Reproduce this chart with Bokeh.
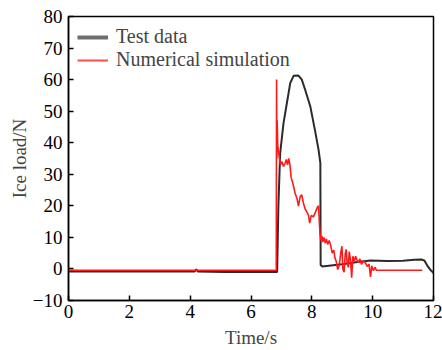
from bokeh.plotting import figure
from bokeh.models import Range1d, Legend, LegendItem, FixedTicker
from bokeh.embed import file_html
from bokeh.resources import INLINE

# Test data (time s, ice load N)
test_t = [0, 4.15, 4.2, 4.25, 5.1, 6.86, 6.9, 6.96, 7.07, 7.18, 7.29, 7.4, 7.56, 7.67,
          7.78, 7.95, 8.11, 8.22, 8.28, 8.29, 8.35, 8.7, 9.06, 9.5, 9.93, 10.5, 11.0,
          11.36, 11.6, 11.7, 11.8, 11.9, 12.0]
test_v = [-0.8, -0.8, -0.1, -0.8, -1.0, -1.0, 20, 36.8, 46.3, 52.6, 58.9, 61.2, 61.3, 60,
          56.8, 51.5, 43.6, 37.8, 33.6, 1.2, 0.8, 1.2, 1.6, 2.2, 2.7, 2.5, 2.6,
          2.9, 3.0, 2.7, 1.0, -0.3, -1.3]

# Numerical simulation
sim_t = [0, 6.83, 6.84, 6.85, 6.86, 6.88, 6.92, 6.97, 7.02, 7.07, 7.12, 7.16, 7.2, 7.24,
         7.28, 7.32, 7.38, 7.45, 7.52, 7.56, 7.62, 7.67, 7.72, 7.78, 7.84, 7.89, 7.93,
         7.98, 8.05, 8.12, 8.18, 8.22, 8.24, 8.27, 8.3, 8.33, 8.36, 8.4, 8.44, 8.48,
         8.52, 8.57, 8.62, 8.67, 8.72, 8.76, 8.8, 8.85, 8.9, 8.95, 8.99, 9.02, 9.06,
         9.1, 9.13, 9.16, 9.2, 9.23, 9.27, 9.31, 9.35, 9.4, 9.44, 9.48, 9.53, 9.58,
         9.63, 9.7, 9.76, 9.82, 9.88, 9.93, 9.97, 10.02, 10.08, 10.12, 11.63]
sim_v = [-0.4, -0.4, 60, 35, 47, 39, 36, 33, 34, 32.5, 33.5, 34.7, 33, 35,
         33, 29, 27, 24, 22, 19.9, 23, 23.5, 21, 19, 18, 17, 14.5,
         17, 16.5, 18, 19.5, 20, 16, 11, 9, 10.5, 8.5, 10, 8.2, 9.5,
         7.8, 9, 7.5, 5, 6, 3.5, 2.5, -0.2, 1, 5, 7.2, 0, -1,
         5, 6.2, 2, 0.5, 5.5, 3, -2.8, 4, 2.5, 4, 3, 2, 3.2,
         1.5, 2.5, 2, 0.8, 1.5, -2.5, 1, -0.5, 0.5, -0.4, -0.4]

x_ticks = [0, 2, 4, 6, 8, 10, 12]
y_ticks = [-10, 0, 10, 20, 30, 40, 50, 60, 70, 80]

FONT = "Liberation Serif"

p = figure(width=442, height=350, output_backend="svg", toolbar_location=None,
           x_range=Range1d(0, 12), y_range=Range1d(-10, 80),
           min_border_left=68, min_border_right=9, min_border_top=16, min_border_bottom=49)
p.background_fill_color = "white"
p.border_fill_color = "white"
p.outline_line_color = "black"
p.outline_line_width = 1.5
p.grid.visible = False

for ax in (p.xaxis[0], p.yaxis[0]):
    ax.major_tick_in = 5
    ax.major_tick_out = 0
    ax.minor_tick_in = 0
    ax.minor_tick_out = 0
    ax.axis_line_width = 1.5
    ax.major_tick_line_width = 1.5
    ax.major_label_text_font = FONT
    ax.major_label_text_font_size = "19px"
    ax.axis_label_text_font = FONT
    ax.axis_label_text_font_size = "19px"
    ax.axis_label_text_font_style = "normal"
    ax.major_label_text_color = "black"

p.xaxis[0].ticker = FixedTicker(ticks=x_ticks)
p.yaxis[0].ticker = FixedTicker(ticks=y_ticks)
p.xaxis[0].axis_label = "Time/s"
p.yaxis[0].axis_label = "Ice load/N"
p.xaxis[0].axis_label_standoff = 6
p.yaxis[0].axis_label_standoff = 0
p.xaxis[0].major_label_standoff = 4
p.yaxis[0].major_label_standoff = 6

p.line(test_t, test_v, line_color="#2b2b2b", line_width=2)
p.line(sim_t, sim_v, line_color="#ff1a1a", line_width=1.6)

# legend proxies (drawn outside the visible range)
l1 = p.line([-50, -49], [-50, -50], line_color="#6e6e6e", line_width=4)
l2 = p.line([-50, -49], [-50, -50], line_color="#ff4d4d", line_width=2)
legend = Legend(items=[LegendItem(label="Test data", renderers=[l1]),
                       LegendItem(label="Numerical simulation", renderers=[l2])],
                location="top_left")
legend.border_line_color = None
legend.background_fill_alpha = 0
legend.label_text_font = FONT
legend.label_text_font_size = "20px"
legend.glyph_width = 31
legend.glyph_height = 20
legend.label_height = 20
legend.spacing = 0
legend.padding = 4
legend.margin = 9
legend.label_standoff = 8
p.add_layout(legend)

open("out.html", "w").write(file_html(p, INLINE))
